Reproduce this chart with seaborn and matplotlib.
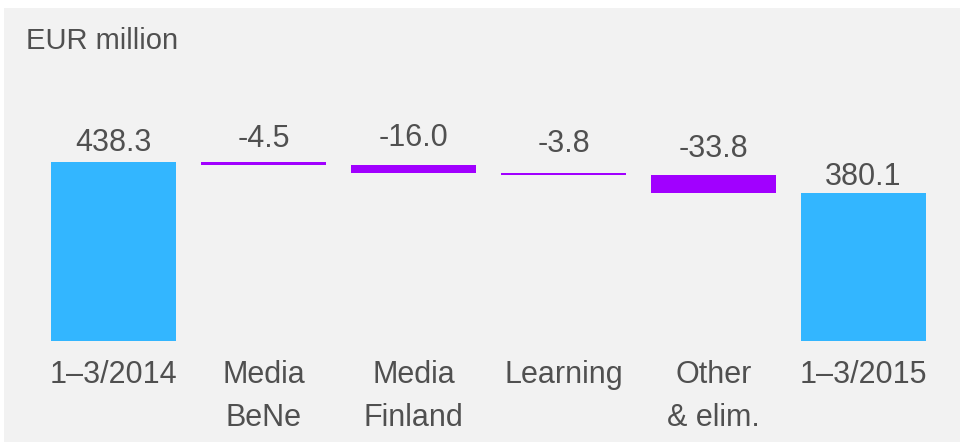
import numpy as np
import pandas as pd
import matplotlib
matplotlib.use("Agg")
import matplotlib.pyplot as plt
import seaborn as sns
from matplotlib.patches import Rectangle

# data
categories = ["1–3/2014", "Media\nBeNe", "Media\nFinland", "Learning", "Other\n& elim.", "1–3/2015"]
values = [438.3, -4.5, -16.0, -3.8, -33.8, 380.1]
kinds = ["total", "delta", "delta", "delta", "delta", "total"]
value_labels = ["438.3", "-4.5", "-16.0", "-3.8", "-33.8", "380.1"]

# colours / styling
blue = "#33b6ff"
purple = "#a100ff"
panel = "#f2f2f2"
txt = "#505050"
label_gap_px = [11, 15, 19, 21, 18, 8]

# build waterfall table: upper edge and lower edge of each bar
upper, lower = [], []
running = 0.0
for v, k in zip(values, kinds):
    if k == "total":
        upper.append(v)
        lower.append(0.0)
        running = v
    else:
        upper.append(running)
        running = running + v
        lower.append(running)
df = pd.DataFrame({"cat": categories, "upper": upper, "lower": lower, "kind": kinds})

sns.set_style("white")
plt.rcParams["font.family"] = ["Liberation Sans", "DejaVu Sans"]

fig = plt.figure(figsize=(9.6, 4.42), dpi=100, facecolor="white")
fig.patches.append(Rectangle((4 / 960, 0), 956 / 960, 434 / 442, transform=fig.transFigure,
                             facecolor=panel, edgecolor="none", zorder=-10))

ax = fig.add_axes([0, 101 / 442, 1, 341 / 442])
ax.set_facecolor("none")

pal = {"total": blue, "delta": purple}
sns.barplot(data=df, x="cat", y="upper", hue="kind", palette=pal, width=0.833,
            dodge=False, legend=False, linewidth=0, saturation=1, ax=ax)
# mask the lower part of floating bars with the panel colour
sns.barplot(data=df.assign(lower=np.where(df["kind"] == "delta", df["lower"], 0)),
            x="cat", y="lower", color=panel, width=0.833, linewidth=0,
            saturation=1, ax=ax)

ax.set_xlim(-113.5 / 150, (960 - 113.5) / 150)
ax.set_ylim(103, 743)
for s in ax.spines.values():
    s.set_visible(False)
ax.set_yticks([])
ax.set_xlabel("")
ax.set_ylabel("")
ax.tick_params(axis="x", length=0, pad=14, labelsize=22, labelcolor=txt)
ax.set_xticks(range(len(categories)))
ax.set_xticklabels(categories, linespacing=1.55)

for i, (lab, top, gap) in enumerate(zip(value_labels, df["upper"], label_gap_px)):
    ax.annotate(lab, (i, top), xytext=(0, gap * 0.72), textcoords="offset points",
                ha="center", va="baseline", fontsize=22, color=txt)

fig.text(26 / 960, 1 - 49 / 442, "EUR million", fontsize=21, color=txt,
         ha="left", va="baseline")

fig.savefig("out.png", dpi=100, facecolor="white")
